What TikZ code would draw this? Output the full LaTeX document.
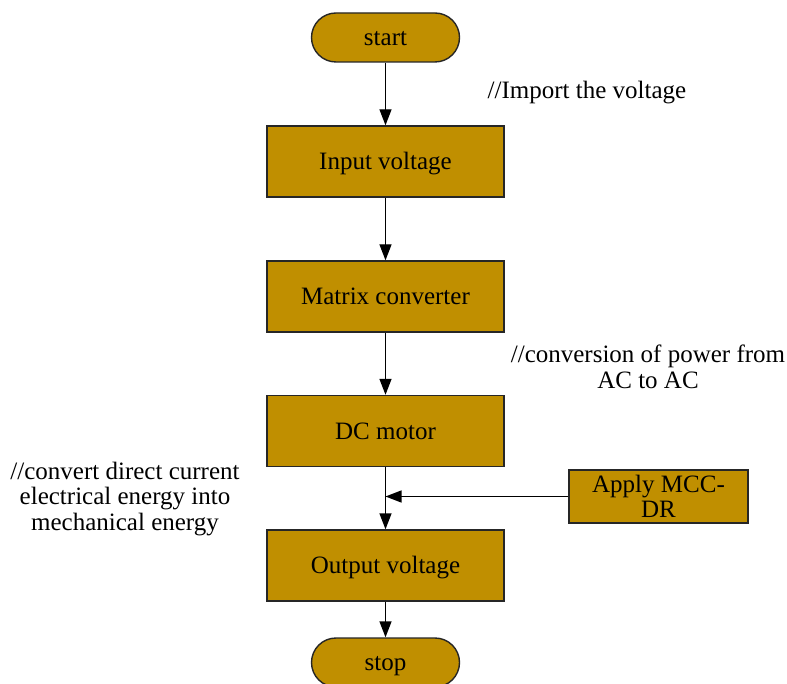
\documentclass[tikz,border=0pt]{standalone}
\usepackage{fontspec}
\setmainfont{Liberation Serif}
\usetikzlibrary{arrows.meta}
\definecolor{gold}{RGB}{192,143,0}
\begin{document}
\begin{tikzpicture}[x=1pt,y=-1pt,
  every node/.style={font=\fontsize{25}{25.5}\selectfont},
  procbox/.style={draw=black!85,line width=1.4pt,fill=gold,minimum width=237pt,minimum height=71pt,inner sep=0pt,text height=16.5pt,text depth=0pt},
  term/.style={draw=black!85,line width=1.4pt,fill=gold,minimum width=148pt,minimum height=49pt,rounded corners=24.5pt,inner sep=0pt,text height=16.5pt,text depth=0pt},
  flow/.style={line width=1.4pt,-{Triangle[length=16pt,width=12pt]}},
  note/.style={align=center,inner sep=0pt}]
\clip (0,0) rectangle (787,684);
\fill[white] (0,0) rectangle (787,684);
\node[term] (start) at (385.5,37.5) {start};
\node[procbox] (in) at (385.5,161.5) {Input voltage};
\node[procbox] (mc) at (385.5,296.5) {Matrix converter};
\node[procbox] (dc) at (385.5,431) {DC motor};
\node[procbox] (out) at (385.5,565.5) {Output voltage};
\node[term] (stop) at (385.5,662.5) {stop};
\node[draw=black!85,line width=1.4pt,fill=gold,minimum width=179pt,minimum height=53pt,inner sep=0pt,align=center] (mcc) at (658.5,496.5) {Apply MCC-\\DR};
\coordinate (j) at (dc.south |- mcc.west);
\node[note] (n1) at (587,93) {//Import the voltage};
\node[note] (n2) at (648,367) {//conversion of power from\\AC to AC};
\node[note] (n3) at (125,499) {//convert direct current\\electrical energy into\\mechanical energy};
\draw[flow] (start) -- (in);
\draw[flow] (in) -- (mc);
\draw[flow] (mc) -- (dc);
\draw[flow] (dc) -- (out);
\draw[flow] (out) -- (stop);
\draw[flow] (mcc.west) -- (j);
\end{tikzpicture}
\end{document}
